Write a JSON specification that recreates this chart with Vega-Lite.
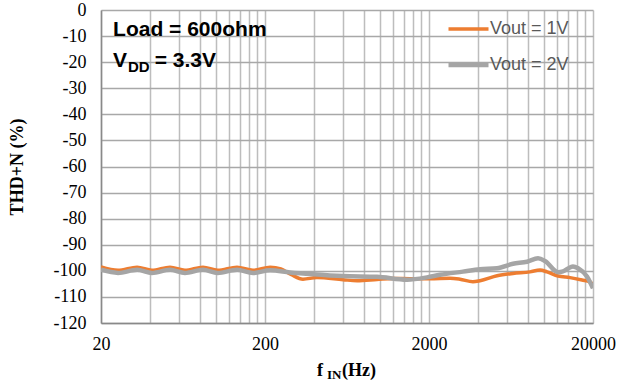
{
  "$schema": "https://vega.github.io/schema/vega-lite/v6.json",
  "width": 492,
  "height": 313,
  "autosize": "none",
  "padding": {"left": 101, "top": 10, "right": 25, "bottom": 64},
  "background": "white",
  "config": {
    "view": {"stroke": null},
    "axis": {"labelOverlap": false, "labelSeparation": 0, "ticks": false, "labelFont": "Liberation Serif", "labelFontSize": 18, "labelColor": "#000000", "labelFlush": false, "grid": true, "gridWidth": 1.5, "domainColor": "#898989", "domainWidth": 1.5, "titleFont": "Liberation Serif", "titleFontSize": 18, "titleFontWeight": "bold", "titleColor": "#000000"},
    "axisX": {"labelPadding": 12, "gridColor": "#BDBDBD", "titlePadding": 10},
    "axisY": {"labelPadding": 15, "gridColor": "#A8A8A8", "titlePadding": 27}
  },
  "data": {"values": [
    {"f": 20, "v": -98.5, "s": "Vout = 1V"},
    {"f": 25.4, "v": -99.8, "s": "Vout = 1V"},
    {"f": 33.2, "v": -98.6, "s": "Vout = 1V"},
    {"f": 40.9, "v": -99.8, "s": "Vout = 1V"},
    {"f": 52.7, "v": -98.6, "s": "Vout = 1V"},
    {"f": 65, "v": -99.8, "s": "Vout = 1V"},
    {"f": 83.7, "v": -98.6, "s": "Vout = 1V"},
    {"f": 103, "v": -99.8, "s": "Vout = 1V"},
    {"f": 135, "v": -98.6, "s": "Vout = 1V"},
    {"f": 169, "v": -99.8, "s": "Vout = 1V"},
    {"f": 215, "v": -98.6, "s": "Vout = 1V"},
    {"f": 250, "v": -99.3, "s": "Vout = 1V"},
    {"f": 290, "v": -101.5, "s": "Vout = 1V"},
    {"f": 341, "v": -103.2, "s": "Vout = 1V"},
    {"f": 415, "v": -102.6, "s": "Vout = 1V"},
    {"f": 598, "v": -103.4, "s": "Vout = 1V"},
    {"f": 728, "v": -103.8, "s": "Vout = 1V"},
    {"f": 964, "v": -103.3, "s": "Vout = 1V"},
    {"f": 1206, "v": -102.9, "s": "Vout = 1V"},
    {"f": 1532, "v": -103, "s": "Vout = 1V"},
    {"f": 2028, "v": -103, "s": "Vout = 1V"},
    {"f": 2686, "v": -102.8, "s": "Vout = 1V"},
    {"f": 3091, "v": -103.2, "s": "Vout = 1V"},
    {"f": 3709, "v": -104.2, "s": "Vout = 1V"},
    {"f": 4093, "v": -103.8, "s": "Vout = 1V"},
    {"f": 5200, "v": -101.9, "s": "Vout = 1V"},
    {"f": 6506, "v": -101, "s": "Vout = 1V"},
    {"f": 8262, "v": -100.4, "s": "Vout = 1V"},
    {"f": 9511, "v": -99.7, "s": "Vout = 1V"},
    {"f": 10490, "v": -100.4, "s": "Vout = 1V"},
    {"f": 12240, "v": -102, "s": "Vout = 1V"},
    {"f": 14490, "v": -102.6, "s": "Vout = 1V"},
    {"f": 17140, "v": -103.5, "s": "Vout = 1V"},
    {"f": 19180, "v": -104.2, "s": "Vout = 1V"},
    {"f": 20000, "v": -105.5, "s": "Vout = 1V"},
    {"f": 20, "v": -99.6, "s": "Vout = 2V"},
    {"f": 25.4, "v": -100.8, "s": "Vout = 2V"},
    {"f": 33.2, "v": -99.6, "s": "Vout = 2V"},
    {"f": 40.9, "v": -100.8, "s": "Vout = 2V"},
    {"f": 52.7, "v": -99.6, "s": "Vout = 2V"},
    {"f": 65, "v": -100.8, "s": "Vout = 2V"},
    {"f": 83.7, "v": -99.6, "s": "Vout = 2V"},
    {"f": 103, "v": -100.8, "s": "Vout = 2V"},
    {"f": 135, "v": -99.6, "s": "Vout = 2V"},
    {"f": 169, "v": -100.8, "s": "Vout = 2V"},
    {"f": 215, "v": -99.8, "s": "Vout = 2V"},
    {"f": 284, "v": -100.6, "s": "Vout = 2V"},
    {"f": 392, "v": -101.3, "s": "Vout = 2V"},
    {"f": 598, "v": -102, "s": "Vout = 2V"},
    {"f": 964, "v": -102.3, "s": "Vout = 2V"},
    {"f": 1469, "v": -103.4, "s": "Vout = 2V"},
    {"f": 1945, "v": -102.5, "s": "Vout = 2V"},
    {"f": 2334, "v": -101.5, "s": "Vout = 2V"},
    {"f": 3223, "v": -100.3, "s": "Vout = 2V"},
    {"f": 4093, "v": -99.4, "s": "Vout = 2V"},
    {"f": 5200, "v": -99, "s": "Vout = 2V"},
    {"f": 6506, "v": -97.3, "s": "Vout = 2V"},
    {"f": 7926, "v": -96.5, "s": "Vout = 2V"},
    {"f": 9245, "v": -95.2, "s": "Vout = 2V"},
    {"f": 10190, "v": -96.2, "s": "Vout = 2V"},
    {"f": 12240, "v": -100.5, "s": "Vout = 2V"},
    {"f": 13120, "v": -100.2, "s": "Vout = 2V"},
    {"f": 15100, "v": -98.3, "s": "Vout = 2V"},
    {"f": 16220, "v": -99, "s": "Vout = 2V"},
    {"f": 18380, "v": -102.2, "s": "Vout = 2V"},
    {"f": 20000, "v": -106.7, "s": "Vout = 2V"}
  ]},
  "layer": [
    {
      "mark": {"type": "line", "interpolate": "monotone", "clip": true},
      "encoding": {
        "x": {
          "field": "f", "type": "quantitative",
          "scale": {"type": "log", "domain": [20, 20000], "nice": false},
          "axis": {
            "values": [20,40,60,80,100,120,140,160,180,200,400,600,800,1000,1200,1400,1600,1800,2000,4000,6000,8000,10000,12000,14000,16000,18000,20000],
            "labelExpr": "indexof([20,200,2000,20000], datum.value) >= 0 ? '' + datum.value : ''",
            "labelOverlap": false,
            "title": null
          }
        },
        "y": {
          "field": "v", "type": "quantitative",
          "scale": {"domain": [-120, 0], "nice": false},
          "axis": {
            "values": [-120,-110,-100,-90,-80,-70,-60,-50,-40,-30,-20,-10,0],
            "tickCount": 13,
            "labelExpr": "'' + datum.value",
            "labelOverlap": false,
            "title": "THD+N (%)"
          }
        },
        "color": {
          "field": "s", "type": "nominal",
          "scale": {"domain": ["Vout = 1V", "Vout = 2V"], "range": ["#ED7D31", "#A5A5A5"]},
          "legend": {
            "orient": "none", "legendX": 345, "legendY": 1,
            "direction": "vertical", "title": null,
            "symbolType": "stroke", "symbolSize": 1600, "symbolStrokeWidth": 4,
            "clipHeight": 36,
            "labelFont": "Liberation Sans", "labelFontSize": 18, "labelColor": "#595959",
            "labelOffset": -1, "rowPadding": 0
          }
        },
        "strokeWidth": {
          "field": "s", "type": "nominal",
          "scale": {"domain": ["Vout = 1V", "Vout = 2V"], "range": [3.5, 4.5]},
          "legend": null
        }
      }
    },
    {
      "data": {"values": [{"t": "Load = 600ohm", "fx": 23.7, "vy": -10, "k": "big"}, {"t": "V", "fx": 23.7, "vy": -22, "k": "big"}, {"t": "= 3.3V", "fx": 42.5, "vy": -22, "k": "big"}, {"t": "DD", "fx": 29.2, "vy": -23.9, "k": "sub"}]},
      "mark": {"type": "text", "align": "left", "baseline": "alphabetic", "font": "Liberation Sans", "fontWeight": "bold", "color": "#000000"},
      "encoding": {
        "text": {"field": "t"},
        "size": {"field": "k", "type": "nominal", "scale": {"domain": ["big", "sub"], "range": [21, 15]}, "legend": null},
        "x": {"field": "fx", "type": "quantitative", "axis": {"values": [20,40,60,80,100,120,140,160,180,200,400,600,800,1000,1200,1400,1600,1800,2000,4000,6000,8000,10000,12000,14000,16000,18000,20000], "labelExpr": "indexof([20,200,2000,20000], datum.value) >= 0 ? '' + datum.value : ''", "labelOverlap": false, "title": null}},
        "y": {"field": "vy", "type": "quantitative", "axis": {"values": [-120,-110,-100,-90,-80,-70,-60,-50,-40,-30,-20,-10,0], "tickCount": 13, "labelExpr": "'' + datum.value", "labelOverlap": false, "title": "THD+N (%)"}}
      }
    },
    {
      "data": {"values": [{"t": "f", "fx": 415, "vy": -140.3, "k": "big"}, {"t": "IN", "fx": 477, "vy": -141.6, "k": "sub"}, {"t": "(Hz)", "fx": 590, "vy": -140.3, "k": "big"}]},
      "mark": {"type": "text", "align": "left", "baseline": "alphabetic", "font": "Liberation Serif", "fontWeight": "bold", "color": "#000000", "clip": false},
      "encoding": {
        "text": {"field": "t"},
        "size": {"field": "k", "type": "nominal", "scale": {"domain": ["big", "sub"], "range": [18, 13]}, "legend": null},
        "x": {"field": "fx", "type": "quantitative", "axis": {"values": [20,40,60,80,100,120,140,160,180,200,400,600,800,1000,1200,1400,1600,1800,2000,4000,6000,8000,10000,12000,14000,16000,18000,20000], "labelExpr": "indexof([20,200,2000,20000], datum.value) >= 0 ? '' + datum.value : ''", "labelOverlap": false, "title": null}},
        "y": {"field": "vy", "type": "quantitative", "axis": {"values": [-120,-110,-100,-90,-80,-70,-60,-50,-40,-30,-20,-10,0], "tickCount": 13, "labelExpr": "'' + datum.value", "labelOverlap": false, "title": "THD+N (%)"}}
      }
    }
  ],
  "resolve": {"scale": {"size": "independent"}}
}
